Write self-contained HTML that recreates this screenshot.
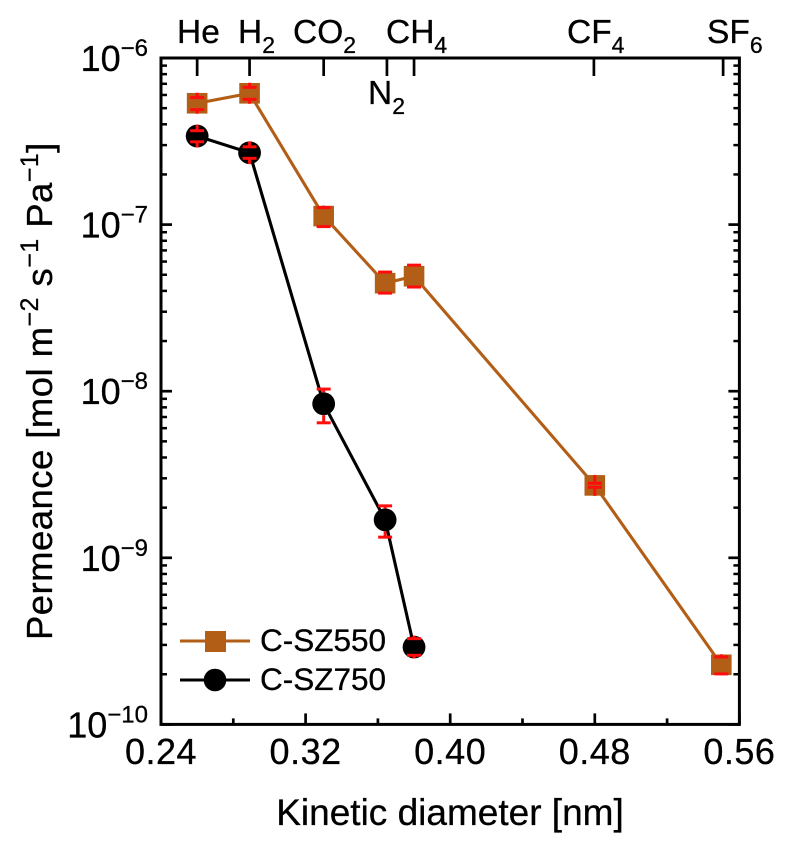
<!DOCTYPE html>
<html lang="en">
<head>
<meta charset="utf-8">
<title>Permeance vs kinetic diameter</title>
<style>
html,body{margin:0;padding:0;background:#fff;width:785px;height:841px;overflow:hidden}
svg{display:block;font-family:"Liberation Sans",Arial,sans-serif;fill:#000}
text{stroke:#000;stroke-width:.3px}
</style>
</head>
<body>
<svg id="chart" xmlns="http://www.w3.org/2000/svg" width="785" height="841" viewBox="0 0 785 841">
  <rect x="0" y="0" width="785" height="841" fill="#fff"/>
  <g id="series-layer"></g>
  <g id="axis-layer"></g>

  <text x="450" y="825" font-size="37" text-anchor="middle">Kinetic diameter [nm]</text>
  <text transform="translate(52,640) rotate(-90)" font-size="36.5" letter-spacing="0.45">Permeance [mol m<tspan font-size="25" dy="-14">−2</tspan><tspan dy="14"> s</tspan><tspan font-size="25" dy="-14">−1</tspan><tspan dy="14"> Pa</tspan><tspan font-size="25" dy="-14">−1</tspan><tspan dy="14">]</tspan></text>

  <text x="177" y="43" font-size="33.5">He</text>
  <text x="238" y="43" font-size="33.5">H<tspan font-size="23" dy="10">2</tspan></text>
  <text x="293" y="43" font-size="33.5">CO<tspan font-size="23" dy="10">2</tspan></text>
  <text x="368" y="104" font-size="33.5">N<tspan font-size="23" dy="10">2</tspan></text>
  <text x="386" y="43" font-size="33.5">CH<tspan font-size="23" dy="10">4</tspan></text>
  <text x="567" y="43" font-size="33.5">CF<tspan font-size="23" dy="10">4</tspan></text>
  <text x="707" y="43" font-size="33.5">SF<tspan font-size="23" dy="10">6</tspan></text>

  <g id="legend">
    <g>
      <line x1="180" x2="250" y1="641" y2="641" stroke="#b35e16" stroke-width="3"/>
      <rect x="205" y="631" width="21" height="21" fill="#b35e16"/>
      <text x="260" y="651" font-size="31.5">C-SZ550</text>
    </g>
    <g>
      <line x1="180" x2="250" y1="680" y2="680" stroke="#000" stroke-width="3"/>
      <circle cx="215" cy="680" r="11.3" fill="#000"/>
      <text x="260" y="690" font-size="31.5">C-SZ750</text>
    </g>
  </g>
</svg>
<script>
// Gas kinetic diameters [nm]
const diameters = [0.26, 0.289, 0.33, 0.364, 0.38, 0.48, 0.55];
const gasTickDiameters = [0.26, 0.289, 0.33, 0.365, 0.38, 0.4795, 0.551];

// Permeance [mol m-2 s-1 Pa-1]
const sz550Values = [5.35e-7, 6.14e-7, 1.125e-7, 4.45e-8, 4.9e-8, 2.72e-9, 2.28e-10];
const sz550High = [5.79e-7, 6.67e-7, 1.265e-7, 5.19e-8, 5.71e-8, 2.8e-9, 2.54e-10];
const sz550Low = [4.9e-7, 5.65e-7, 9.73e-8, 3.88e-8, 4.22e-8, 2.65e-9, 2.01e-10];

const sz750Diameters = [0.26, 0.289, 0.33, 0.364, 0.38];
const sz750Values = [3.4e-7, 2.7e-7, 8.4e-9, 1.69e-9, 2.91e-10];
const sz750High = [3.66e-7, 2.93e-7, 1.03e-8, 2.05e-9, 3.27e-10];
const sz750Low = [3.14e-7, 2.5e-7, 6.46e-9, 1.33e-9, 2.6e-10];

// Axis ticks
const xMajorTicks = ["0.24", "0.32", "0.40", "0.48", "0.56"];
const xMinorTicks = [0.28, 0.36, 0.44, 0.52];
const yDecades = [-6, -7, -8, -9, -10];
const yMinorMultipliers = [2, 3, 4, 5, 6, 7, 8, 9];

const plotLeft = 161, plotRight = 739.4, plotTop = 58, plotBottom = 724.4;
const xMin = 0.24, xMax = 0.56, logMax = -6, logMin = -10;
const NS = "http://www.w3.org/2000/svg";
const BROWN = "#b35e16", RED = "#ff0d0d";

function xScale(v) { return plotLeft + (v - xMin) / (xMax - xMin) * (plotRight - plotLeft); }
function yScale(v) { return plotTop + (logMax - Math.log10(v)) / (logMax - logMin) * (plotBottom - plotTop); }

function make(parent, tag) {
  const el = document.createElementNS(NS, tag);
  parent.appendChild(el);
  return el;
}
function lineEl(parent, x1, y1, x2, y2, color, width) {
  const el = make(parent, "line");
  el.setAttribute("x1", x1);
  el.setAttribute("y1", y1);
  el.setAttribute("x2", x2);
  el.setAttribute("y2", y2);
  el.setAttribute("stroke", color);
  el.setAttribute("stroke-width", width);
  return el;
}

const axisLayer = document.getElementById("axis-layer");
const seriesLayer = document.getElementById("series-layer");

// Plot frame
const frame = make(axisLayer, "rect");


frame.setAttribute("x", plotLeft);
frame.setAttribute("y", plotTop);
frame.setAttribute("width", plotRight - plotLeft);
frame.setAttribute("height", plotBottom - plotTop);
frame.setAttribute("fill", "none");
frame.setAttribute("stroke", "#000");
frame.setAttribute("stroke-width", "3");

// X ticks
xMajorTicks.forEach(function (label) {
  const x = xScale(parseFloat(label));
  const tick = lineEl(axisLayer, x, plotBottom, x, plotBottom - 11, "#000", 2.7);
  
  
  const text = make(axisLayer, "text");
  
  
  text.setAttribute("x", x);
  text.setAttribute("y", 764);
  text.setAttribute("font-size", "36");
  text.setAttribute("letter-spacing", "0.5");
  text.setAttribute("text-anchor", "middle");
  text.textContent = label;
});
xMinorTicks.forEach(function (v) {
  const x = xScale(v);
  const tick = lineEl(axisLayer, x, plotBottom, x, plotBottom - 6, "#000", 2.7);
  
  
});

// Top gas ticks
gasTickDiameters.forEach(function (v) {
  const x = xScale(v);
  const tick = lineEl(axisLayer, x, plotTop, x, plotTop + 18, "#000", 2.7);
  
  
});

// Y ticks on both sides
yDecades.forEach(function (d) {
  const y = yScale(Math.pow(10, d));
  const leftTick = lineEl(axisLayer, plotLeft, y, plotLeft + 11, y, "#000", 2.7);
  
  
  const rightTick = lineEl(axisLayer, plotRight, y, plotRight - 11, y, "#000", 2.7);
  
  

  const label = make(axisLayer, "text");
  
  
  label.setAttribute("x", 148);
  label.setAttribute("y", y + 13);
  label.setAttribute("text-anchor", "end");
  label.setAttribute("font-size", "36");
  const base = make(label, "tspan");
  base.textContent = "10";
  const exponent = make(label, "tspan");
  exponent.setAttribute("font-size", "24");
  exponent.setAttribute("dy", "-15");
  exponent.textContent = "−" + Math.abs(d);

  if (d > logMin) {
    yMinorMultipliers.forEach(function (m) {
      const ym = yScale(m * Math.pow(10, d - 1));
      const minorLeft = lineEl(axisLayer, plotLeft, ym, plotLeft + 6, ym, "#000", 2.5);
      
      
      const minorRight = lineEl(axisLayer, plotRight, ym, plotRight - 6, ym, "#000", 2.5);
      
      
    });
  }
});

function drawLine(xs, ys, color, name) {
  const path = make(seriesLayer, "polyline");
  
  
  path.setAttribute("points", xs.map(function (v, i) { return xScale(v) + "," + yScale(ys[i]); }).join(" "));
  path.setAttribute("fill", "none");
  path.setAttribute("stroke", color);
  path.setAttribute("stroke-width", "3.1");
}

// Error bar: a cap at each bound, with a stem joining the cap and the marker edge
function drawError(x, yc, hi, lo, halfSize) {
  const yHi = yScale(hi), yLo = yScale(lo);
  const edgeTop = yc - halfSize, edgeBottom = yc + halfSize;
  const capUpper = lineEl(seriesLayer, x - 7, yHi, x + 7, yHi, RED, 3);
  
  
  const capLower = lineEl(seriesLayer, x - 7, yLo, x + 7, yLo, RED, 3);
  
  
  const stemUpper = lineEl(seriesLayer, x, yHi, x, edgeTop, RED, 3);
  
  
  const stemLower = lineEl(seriesLayer, x, yLo, x, edgeBottom, RED, 3);
  
  
}

drawLine(diameters, sz550Values, BROWN, "line-c-sz550");
drawLine(sz750Diameters, sz750Values, "#000", "line-c-sz750");

sz550Values.forEach(function (v, i) {
  const x = xScale(diameters[i]), y = yScale(v);
  const square = make(seriesLayer, "rect");
  
  
  square.setAttribute("x", x - 10.3);
  square.setAttribute("y", y - 10.3);
  square.setAttribute("width", 20.6);
  square.setAttribute("height", 20.6);
  square.setAttribute("fill", BROWN);
  drawError(x, y, sz550High[i], sz550Low[i], 10.5);
});

sz750Values.forEach(function (v, i) {
  const x = xScale(sz750Diameters[i]), y = yScale(v);
  const dot = make(seriesLayer, "circle");
  
  
  dot.setAttribute("cx", x);
  dot.setAttribute("cy", y);
  dot.setAttribute("r", 11.4);
  dot.setAttribute("fill", "#000");
  drawError(x, y, sz750High[i], sz750Low[i], 11.4);
});
</script>
</body>
</html>
